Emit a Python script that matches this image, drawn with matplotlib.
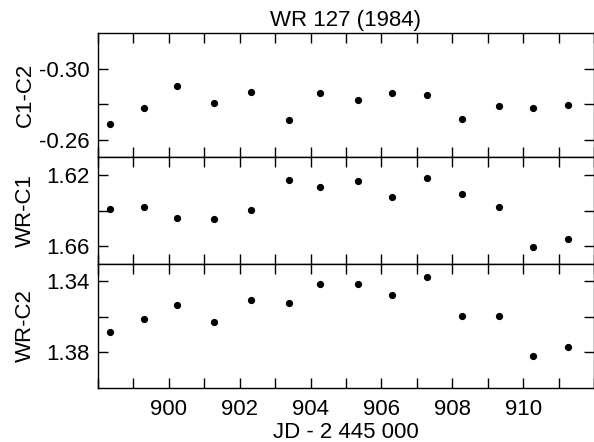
import matplotlib
matplotlib.use("Agg")
import matplotlib.pyplot as plt
from matplotlib.ticker import MultipleLocator, FixedLocator

plt.rcParams['font.family'] = ['Liberation Sans', 'DejaVu Sans']

jd = [898.33, 899.30, 900.24, 901.27, 902.32, 903.39, 904.28,
      905.35, 906.30, 907.30, 908.27, 909.33, 910.27, 911.27]
c1_c2 = [-0.2686, -0.2775, -0.2901, -0.2808, -0.2868, -0.2711, -0.2860,
         -0.2822, -0.2860, -0.2853, -0.2714, -0.2789, -0.2777, -0.2793]
wr_c1 = [1.6392, 1.6379, 1.6442, 1.6447, 1.6396, 1.6226, 1.6266,
         1.6234, 1.6323, 1.6219, 1.6306, 1.6379, 1.6604, 1.6559]
wr_c2 = [1.3682, 1.3610, 1.3533, 1.3630, 1.3507, 1.3522, 1.3413,
         1.3413, 1.3474, 1.3372, 1.3592, 1.3592, 1.3817, 1.3770]

x_major = [900, 902, 904, 906, 908, 910]
x_labels = ["900", "902", "904", "906", "908", "910"]

panels = [
    ("C1-C2", c1_c2, (-0.25, -0.32), [-0.30, -0.26], ["-0.30", "-0.26"], [-0.28]),
    ("WR-C1", wr_c1, (1.67, 1.61), [1.62, 1.66], ["1.62", "1.66"], [1.64]),
    ("WR-C2", wr_c2, (1.40, 1.33), [1.34, 1.38], ["1.34", "1.38"], [1.36]),
]
title = "WR 127 (1984)"
xlabel = "JD - 2 445 000"
xlim = (898, 912)

fig = plt.figure(figsize=(5.94, 4.42), dpi=100)
gs = fig.add_gridspec(3, 1, height_ratios=[7, 6, 7], hspace=0,
                      left=98/594, right=1.0, top=1-33/442, bottom=1-388/442)
axes = []
for i, (lab, vals, ylim, majors, majlabels, minors) in enumerate(panels):
    ax = fig.add_subplot(gs[i, 0])
    axes.append(ax)
    ax.plot(jd, vals, 'o', color='black', ms=4.2, mec='black')
    ax.set_xlim(*xlim)
    ax.set_ylim(*ylim)
    ax.yaxis.set_major_locator(FixedLocator(majors))
    ax.set_yticklabels(majlabels)
    ax.yaxis.set_minor_locator(FixedLocator(minors))
    ax.xaxis.set_major_locator(FixedLocator(x_major))
    ax.set_xticklabels(x_labels)
    ax.xaxis.set_minor_locator(MultipleLocator(1))
    ax.tick_params(which='both', direction='in', top=True, right=True,
                   length=7, width=1.0, labelsize=16, pad=6)
    ax.set_ylabel(lab, fontsize=16)
    for s in ax.spines.values():
        s.set_linewidth(1.0)
    if i < 2:
        ax.tick_params(labelbottom=False)
    ax.yaxis.set_label_coords(-0.125, 0.5)

axes[0].set_title(title, fontsize=16, pad=5)
axes[-1].set_xlabel(xlabel, fontsize=16, labelpad=1)
axes[-1].tick_params(axis='x', pad=8)

fig.savefig("out.png", dpi=100)
